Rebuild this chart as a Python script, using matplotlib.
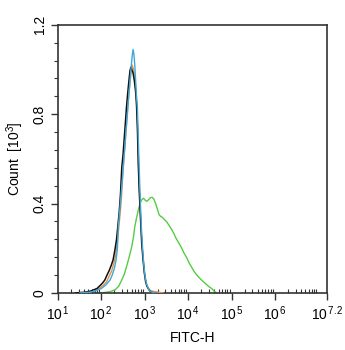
import matplotlib.pyplot as plt
import numpy as np
from matplotlib.ticker import LogLocator, MultipleLocator, FixedLocator, NullFormatter

plt.rcParams['font.family'] = ['Liberation Sans', 'DejaVu Sans']
plt.rcParams['mathtext.fontset'] = 'custom'
plt.rcParams['mathtext.rm'] = 'Liberation Sans'
plt.rcParams['mathtext.it'] = 'Liberation Sans'

# histogram outlines: log10(FITC-H), count in thousands
black_log = [1.40, 1.60, 1.75, 1.81, 1.90, 1.98, 2.03, 2.08, 2.13, 2.18, 2.23, 2.27, 2.31,
             2.35, 2.38, 2.41, 2.44, 2.47, 2.50, 2.53, 2.56, 2.58, 2.61, 2.64, 2.66, 2.68,
             2.70, 2.73, 2.76, 2.79, 2.81, 2.83, 2.85, 2.87, 2.89, 2.91, 2.93, 2.96, 2.99,
             3.02, 3.05, 3.08, 3.12, 3.17, 3.25]
black_cnt = [0.000, 0.003, 0.008, 0.013, 0.020, 0.035, 0.045, 0.058, 0.080, 0.100, 0.125, 0.148, 0.190,
             0.240, 0.300, 0.360, 0.440, 0.560, 0.620, 0.700, 0.780, 0.835, 0.900, 0.960, 0.995, 1.010,
             1.000, 0.985, 0.950, 0.900, 0.840, 0.740, 0.580, 0.470, 0.380, 0.300, 0.220, 0.150, 0.090,
             0.050, 0.030, 0.020, 0.008, 0.002, 0.000]

orange_log = [1.40, 1.65, 1.85, 1.95, 2.05, 2.12, 2.18, 2.24, 2.29, 2.33, 2.37, 2.40, 2.43,
              2.46, 2.49, 2.52, 2.55, 2.58, 2.61, 2.64, 2.67, 2.69, 2.71, 2.74, 2.77, 2.80,
              2.82, 2.84, 2.86, 2.88, 2.90, 2.92, 2.94, 2.97, 3.00, 3.04, 3.08, 3.14, 3.22,
              3.30, 3.42]
orange_cnt = [0.000, 0.003, 0.010, 0.020, 0.035, 0.050, 0.075, 0.100, 0.135, 0.170, 0.230, 0.290, 0.350,
              0.420, 0.520, 0.600, 0.680, 0.760, 0.840, 0.900, 0.960, 1.000, 1.020, 1.000, 0.960, 0.900,
              0.840, 0.700, 0.560, 0.450, 0.360, 0.280, 0.210, 0.140, 0.080, 0.040, 0.020, 0.010, 0.006,
              0.004, 0.000]

blue_log = [1.50, 1.75, 1.90, 2.00, 2.10, 2.20, 2.25, 2.30, 2.34, 2.37, 2.39, 2.42, 2.45,
            2.48, 2.51, 2.54, 2.57, 2.60, 2.63, 2.66, 2.69, 2.71, 2.73, 2.75, 2.77, 2.79,
            2.81, 2.83, 2.85, 2.87, 2.89, 2.92, 2.95, 2.98, 3.01, 3.04, 3.08, 3.12, 3.18,
            3.26]
blue_cnt = [0.000, 0.004, 0.012, 0.020, 0.035, 0.058, 0.080, 0.110, 0.148, 0.200, 0.297, 0.360, 0.430,
            0.500, 0.580, 0.650, 0.730, 0.800, 0.880, 0.950, 1.020, 1.060, 1.090, 1.070, 1.020, 0.950,
            0.880, 0.830, 0.700, 0.570, 0.450, 0.300, 0.200, 0.120, 0.070, 0.040, 0.020, 0.008, 0.002,
            0.000]

green_log = [1.97, 2.10, 2.20, 2.31, 2.40, 2.47, 2.53, 2.58, 2.64, 2.70, 2.74, 2.77, 2.81,
             2.85, 2.89, 2.93, 2.97, 3.01, 3.05, 3.09, 3.13, 3.17, 3.21, 3.25, 3.29, 3.33,
             3.37, 3.41, 3.46, 3.50, 3.55, 3.60, 3.66, 3.72, 3.78, 3.84, 3.90, 3.96, 4.02,
             4.08, 4.14, 4.20, 4.27, 4.35, 4.42, 4.48, 4.54, 4.60, 4.66]
green_cnt = [0.000, 0.003, 0.006, 0.013, 0.030, 0.058, 0.085, 0.118, 0.160, 0.207, 0.250, 0.297, 0.335,
             0.370, 0.400, 0.417, 0.424, 0.415, 0.410, 0.418, 0.426, 0.428, 0.420, 0.400, 0.375, 0.350,
             0.342, 0.338, 0.327, 0.320, 0.305, 0.290, 0.270, 0.245, 0.225, 0.205, 0.180, 0.160, 0.135,
             0.115, 0.095, 0.080, 0.065, 0.050, 0.038, 0.028, 0.020, 0.008, 0.000]

fig = plt.figure(figsize=(3.45, 3.5), dpi=100)
ax = fig.add_axes([0.168, 0.163, 0.780, 0.766])

ax.plot(10 ** np.array(green_log), green_cnt, color='#55cc44', lw=1.0, zorder=2)
ax.plot(10 ** np.array(orange_log), orange_cnt, color='#e09050', lw=1.0, zorder=3)
ax.plot(10 ** np.array(black_log), black_cnt, color='#111111', lw=1.1, zorder=4)
ax.plot(10 ** np.array(blue_log), blue_cnt, color='#40a8d8', lw=1.0, zorder=5)

ax.set_xscale('log')
ax.set_xlim(10 ** 1, 10 ** 7.2)
ax.set_ylim(0, 1.2)

xt = [1, 2, 3, 4, 5, 6, 7.2]
ax.xaxis.set_major_locator(FixedLocator([10 ** v for v in xt]))
ax.set_xticklabels(['10$^{\\,%g}$' % v for v in xt])
ax.xaxis.set_minor_locator(LogLocator(base=10, subs=np.arange(2, 10), numticks=20))
ax.xaxis.set_minor_formatter(NullFormatter())

ax.set_yticks([0, 0.4, 0.8, 1.2])
ax.set_yticklabels(['0', '0.4', '0.8', '1.2'], rotation=90, va='center')
ax.yaxis.set_minor_locator(MultipleLocator(0.08))

ax.tick_params(axis='both', which='major', labelsize=10, length=5, width=1, color='#333333', pad=3)
ax.tick_params(axis='x', which='minor', direction='in', length=3, width=0.8, color='#333333')
ax.tick_params(axis='y', which='minor', direction='out', length=3, width=0.8, color='#333333')

for s in ax.spines.values():
    s.set_linewidth(1.2)
    s.set_color('#333333')

ax.set_xlabel('FITC-H', fontsize=10, labelpad=6)
ax.set_ylabel('Count  [10$^{3}$]', fontsize=10, labelpad=5)

fig.savefig('out.png', dpi=100)
